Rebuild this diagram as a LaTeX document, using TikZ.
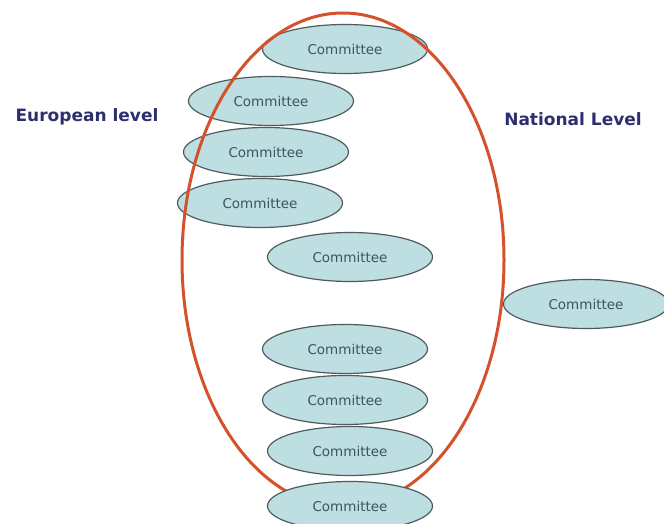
\documentclass[tikz,border=0pt]{standalone}
\usepackage{fontspec}
\setmainfont{DejaVu Sans}
\usetikzlibrary{shapes.geometric}

\definecolor{cmtfill}{HTML}{BEDFE2}
\definecolor{cmtline}{HTML}{4F5A5C}
\definecolor{cmttext}{HTML}{3A5560}
\definecolor{levelblue}{HTML}{2E2E6E}
\definecolor{ringred}{HTML}{D5512B}

\tikzset{
  committee/.style={ellipse, draw=cmtline, line width=1.2pt, fill=cmtfill,
    minimum width=\cmtwidth, minimum height=\cmtheight, inner sep=0pt,
    text=cmttext, font=\fontsize{13.5}{15}\selectfont},
  levellabel/.style={anchor=base, text=levelblue,
    font=\fontsize{17}{19}\selectfont\bfseries},
  ring/.style={draw=ringred, line width=3pt}
}

\begin{document}
\begin{tikzpicture}[x=1pt, y=-1pt]

% Ellipse dimensions
\def\cmtwidth{165pt}
\def\cmtheight{49pt}

\useasboundingbox (0,0) rectangle (664,524);

% Level labels
\node[levellabel] (european) at (87,122) {European level};
\node[levellabel] (national) at (573,126) {National Level};

% Committees inside and beside the ring
\foreach \name/\cx/\cy in {c1/345/49, c2/271/101, c3/266/152, c4/260/203,
                           c5/350/257, c6/586/304, c7/345/349, c8/345/400,
                           c9/350/451} {
    \node[committee] (\name) at (\cx,\cy) {Committee};
}

% The ring around them
\node[ring, ellipse, minimum width=322pt, minimum height=494pt, inner sep=0pt]
    (ring) at (343,260) {};

% Bottom committee lies on top of the ring
\node[committee] (c10) at (350,506) {Committee};

\end{tikzpicture}
\end{document}
